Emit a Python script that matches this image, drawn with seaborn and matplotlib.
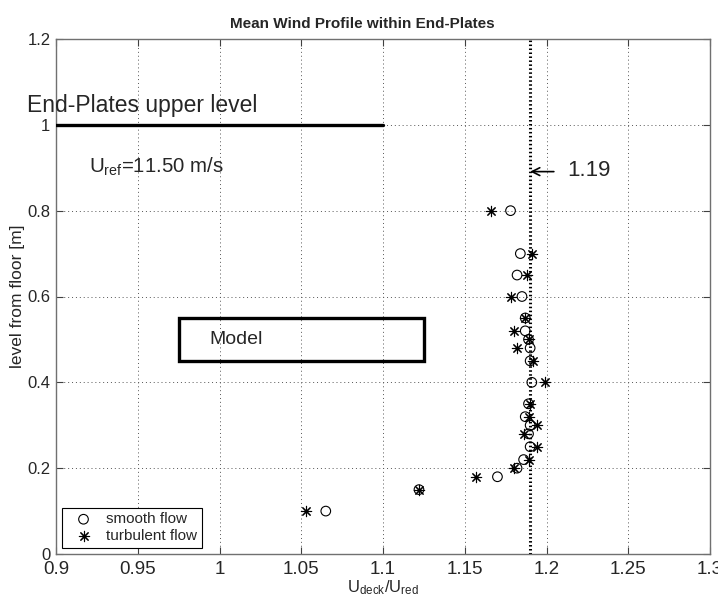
import matplotlib
matplotlib.use("Agg")
import matplotlib.pyplot as plt
from matplotlib.patches import Rectangle
import seaborn as sns

# Measured profile: height above the floor and normalised velocity
levels = [0.10, 0.15, 0.18, 0.20, 0.22, 0.25, 0.28, 0.30, 0.32, 0.35,
          0.40, 0.45, 0.48, 0.50, 0.52, 0.55, 0.60, 0.65, 0.70, 0.80]
smooth_flow = [1.065, 1.122, 1.170, 1.182, 1.186, 1.190, 1.189, 1.190, 1.187, 1.189,
               1.191, 1.190, 1.190, 1.189, 1.187, 1.187, 1.185, 1.182, 1.184, 1.178]
turbulent_flow = [1.053, 1.122, 1.157, 1.180, 1.189, 1.194, 1.186, 1.194, 1.189, 1.190,
                  1.199, 1.192, 1.182, 1.189, 1.180, 1.187, 1.178, 1.188, 1.191, 1.166]

mean_ratio = 1.19
endplate_level = 1.0
u_ref_label = r"U$_{\mathrm{ref}}$=11.50 m/s"

x_ticks = [0.9, 0.95, 1.0, 1.05, 1.1, 1.15, 1.2, 1.25, 1.3]
x_tick_labels = ["0.9", "0.95", "1", "1.05", "1.1", "1.15", "1.2", "1.25", "1.3"]
y_ticks = [0, 0.2, 0.4, 0.6, 0.8, 1.0, 1.2]
y_tick_labels = ["0", "0.2", "0.4", "0.6", "0.8", "1", "1.2"]

sns.set_theme(style="white")
plt.rcParams["font.family"] = ["Liberation Sans", "DejaVu Sans"]
plt.rcParams["mathtext.fontset"] = "custom"
plt.rcParams["mathtext.rm"] = "Liberation Sans"
plt.rcParams["mathtext.it"] = "Liberation Sans:italic"
plt.rcParams["mathtext.bf"] = "Liberation Sans:bold"

fig = plt.figure(figsize=(7.18, 6.04), dpi=100)
ax = fig.add_axes([56 / 718, 50 / 604, 654 / 718, 515 / 604])

# dotted grid
ax.set_xticks(x_ticks)
ax.set_xticklabels(x_tick_labels)
ax.set_yticks(y_ticks)
ax.set_yticklabels(y_tick_labels)
ax.grid(True, color="#555555", linestyle=(0, (1, 3)), linewidth=0.7)

# mean velocity ratio
ax.axvline(mean_ratio, color="black", linestyle=(0, (0.5, 0.8)), linewidth=2.2, zorder=2)

sns.scatterplot(x=smooth_flow, y=levels, ax=ax, marker="o", s=48,
                facecolors="none", edgecolor="black", color="black",
                linewidth=0.8, label="smooth flow", zorder=3)
sns.scatterplot(x=turbulent_flow, y=levels, ax=ax, marker=(8, 2, 0), s=55,
                color="black", linewidth=0.8, label="turbulent flow", zorder=3)

# end-plates upper level
ax.plot([0.9, 1.1], [endplate_level, endplate_level], color="black", linewidth=2.4, zorder=4)
ax.text(0.882, 1.029, "End-Plates upper level", fontsize=16.5, va="baseline", ha="left",
        clip_on=False)
ax.text(0.92, 0.888, u_ref_label, fontsize=14.7, va="baseline", ha="left")

# model outline
ax.add_patch(Rectangle((0.975, 0.45), 0.15, 0.10, fill=False, edgecolor="black",
                       linewidth=2.4, zorder=4))
ax.text(0.994, 0.499, "Model", fontsize=14, va="center", ha="left")

# label for the mean ratio
ax.annotate("", xy=(mean_ratio, 0.891), xytext=(1.2045, 0.891),
            arrowprops=dict(arrowstyle="->", color="black", lw=1.2,
                            shrinkA=0, shrinkB=0, mutation_scale=14))
ax.text(1.2125, 0.893, f"{mean_ratio:.2f}", fontsize=16, va="center", ha="left")

ax.set_xlim(0.9, 1.3)
ax.set_ylim(0, 1.2)
ax.set_title("Mean Wind Profile within End-Plates", fontsize=11, fontweight="bold",
             pad=8, x=(362 - 56) / 654)
ax.set_xlabel(r"U$_{\mathrm{deck}}$/U$_{\mathrm{red}}$", fontsize=12, labelpad=0)
ax.set_ylabel("level from floor [m]", fontsize=12.5, labelpad=2)

for side in ["left", "right", "top", "bottom"]:
    ax.spines[side].set_visible(True)
    ax.spines[side].set_color("#707070")
    ax.spines[side].set_linewidth(1.0)
ax.tick_params(axis="both", which="both", direction="in", length=5, width=0.8,
               color="#404040", top=True, right=True, bottom=True, left=True)
ax.tick_params(axis="x", labelsize=13.5, pad=5)
ax.tick_params(axis="y", labelsize=12, pad=4)

leg = ax.legend(loc="lower left", frameon=True, fancybox=False, fontsize=11,
                edgecolor="black", borderpad=0.3, handletextpad=0.4,
                labelspacing=0.2, handlelength=2.2, borderaxespad=0.4)
leg.get_frame().set_linewidth(0.8)
leg.get_frame().set_alpha(1)

fig.savefig("out.png", dpi=100, facecolor="white")
